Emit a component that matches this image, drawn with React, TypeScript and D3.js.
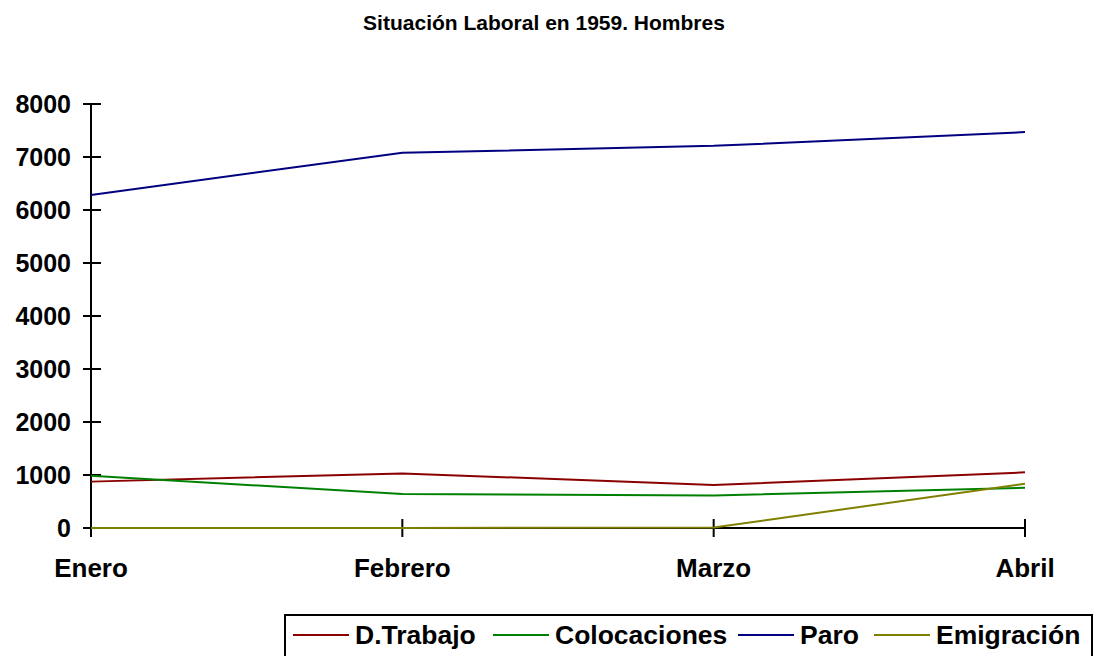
import React from "react";
import * as d3 from "d3";

const categories = ["Enero", "Febrero", "Marzo", "Abril"];
const dTrabajo = [875, 1030, 810, 1050];
const colocaciones = [985, 640, 615, 760];
const paro = [6285, 7080, 7210, 7470];
const emigracion = [0, 0, 10, 835];
const yTicks = [0, 1000, 2000, 3000, 4000, 5000, 6000, 7000, 8000];

const series = [
  { name: "D.Trabajo", values: dTrabajo, color: "#8B0000" },
  { name: "Colocaciones", values: colocaciones, color: "#008000" },
  { name: "Paro", values: paro, color: "#000080" },
  { name: "Emigración", values: emigracion, color: "#808000" },
];

const legendLineX = [293, 493, 738, 874];

export default function App() {
  const W = 1096, H = 656;
  const x = d3.scalePoint<string>().domain(categories).range([91, 1025]);
  const y = d3.scaleLinear().domain([0, 8000]).range([528, 104]);
  const line = d3.line<number>().x((_, i) => x(categories[i])!).y((v) => y(v));
  const font = "Arial, 'Liberation Sans', sans-serif";
  return (
    <svg width={W} height={H} style={{ position: "absolute", left: 0, top: 0, background: "#fff" }} fontFamily={font}>
      <text x={544} y={30} textAnchor="middle" fontSize={21} fontWeight="bold">Situación Laboral en 1959. Hombres</text>
      <line x1={91} x2={91} y1={104} y2={528} stroke="#000" strokeWidth={2} />
      <line x1={91} x2={1025} y1={528} y2={528} stroke="#000" strokeWidth={2} />
      {yTicks.map((t) => (
        <g key={t}>
          <line x1={83} x2={101} y1={y(t)} y2={y(t)} stroke="#000" strokeWidth={2} />
          <text x={71} y={y(t) + 8.5} textAnchor="end" fontSize={25} fontWeight="bold">{t}</text>
        </g>
      ))}
      {categories.map((c) => (
        <g key={c}>
          <line x1={x(c)} x2={x(c)} y1={519} y2={537} stroke="#000" strokeWidth={2} />
          <text x={x(c)} y={577} textAnchor="middle" fontSize={26} fontWeight="bold">{c}</text>
        </g>
      ))}
      {series.map((s) => (
        <path key={s.name} d={line(s.values)!} fill="none" stroke={s.color} strokeWidth={2} />
      ))}
      <rect x={285} y={615} width={807} height={50} fill="#fff" stroke="#000" strokeWidth={2} />
      {series.map((s, i) => (
        <g key={s.name}>
          <line x1={legendLineX[i]} x2={legendLineX[i] + 56} y1={635} y2={635} stroke={s.color} strokeWidth={2} />
          <text x={legendLineX[i] + 62} y={643.5} fontSize={26.5} fontWeight="bold">{s.name}</text>
        </g>
      ))}
    </svg>
  );
}
